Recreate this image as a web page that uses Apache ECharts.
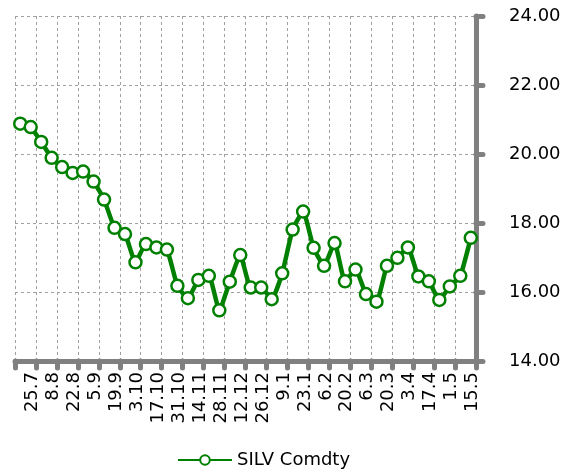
<!DOCTYPE html>
<html>
<head>
<meta charset="utf-8">
<script src="https://cdn.jsdelivr.net/npm/echarts@6/dist/echarts.min.js"></script>
<style>
  html, body { margin: 0; padding: 0; background: #fff; }
  #chart { width: 573px; height: 472px; }
</style>
</head>
<body>
<div id="chart"></div>
<script>
// weekly observations, 25.7 .. 22.5
const weeks = [
    '25.7', '1.8', '8.8', '15.8', '22.8', '29.8', '5.9', '12.9', '19.9', '26.9',
    '3.10', '10.10', '17.10', '24.10', '31.10', '7.11', '14.11', '21.11', '28.11', '5.12',
    '12.12', '19.12', '26.12', '2.1', '9.1', '16.1', '23.1', '30.1', '6.2', '13.2',
    '20.2', '27.2', '6.3', '13.3', '20.3', '27.3', '3.4', '10.4', '17.4', '24.4',
    '1.5', '8.5', '15.5', '22.5'
];
const silv = [
    20.88, 20.78, 20.35, 19.89, 19.62, 19.45, 19.49, 19.20, 18.68, 17.86,
    17.68, 16.86, 17.39, 17.29, 17.23, 16.18, 15.82, 16.35, 16.47, 15.47,
    16.30, 17.07, 16.13, 16.13, 15.79, 16.54, 17.81, 18.33, 17.28, 16.76,
    17.42, 16.31, 16.65, 15.94, 15.72, 16.76, 16.99, 17.29, 16.45, 16.31,
    15.77, 16.16, 16.47, 17.57
];
// labels shown on the axis, one per fortnight
const tickLabels = [
    '25.7', '8.8', '22.8', '5.9', '19.9', '3.10', '17.10', '31.10', '14.11', '28.11', '12.12',
    '26.12', '9.1', '23.1', '6.2', '20.2', '6.3', '20.3', '3.4', '17.4', '1.5', '15.5'
];
const yTicks = { min: 14, max: 24, step: 2 };

const font = 'DejaVu Sans';
const axisGray = '#808080';
const gridGray = '#a0a0a0';

const chart = echarts.init(document.getElementById('chart'), null, { renderer: 'canvas' });
chart.setOption({
    animation: false,
    backgroundColor: '#fff',
    textStyle: { fontFamily: font, color: '#000' },
    grid: { left: 15, right: 97, top: 16, bottom: 111 },
    xAxis: [
        {
            type: 'category',
            data: weeks,
            boundaryGap: true,
            position: 'bottom',
            show: false
        },
        {
            type: 'category',
            data: tickLabels,
            boundaryGap: true,
            position: 'bottom',
            axisLine: { lineStyle: { color: axisGray, width: 5, cap: 'round' } },
            axisTick: { show: true, length: 7, lineStyle: { color: axisGray, width: 5, cap: 'round' } },
            axisLabel: {
                interval: 0, rotate: 90, margin: 11,
                // blank first line nudges the rotated text to the right
                formatter: v => '\n' + v,
                lineHeight: 14,
                fontFamily: font, fontSize: 18, color: '#000'
            },
            splitLine: {
                show: true, interval: 0,
                lineStyle: { color: gridGray, width: 1, type: [3, 3] }
            }
        }
    ],
    yAxis: {
        type: 'value',
        position: 'right',
        min: yTicks.min,
        max: yTicks.max,
        interval: yTicks.step,
        axisLine: { show: true, lineStyle: { color: axisGray, width: 5, cap: 'round' } },
        axisTick: { show: true, length: 7, lineStyle: { color: axisGray, width: 5, cap: 'round' } },
        axisLabel: {
            margin: 33, fontFamily: font, fontSize: 18, color: '#000',
            formatter: v => v.toFixed(2)
        },
        splitLine: { show: true, lineStyle: { color: gridGray, width: 1, type: [3, 3] } }
    },
    legend: {
        top: 446,
        left: 172,
        itemWidth: 54,
        itemHeight: 12,
        itemGap: 6,
        textStyle: { fontFamily: font, fontSize: 18, color: '#000' },
        data: ['SILV Comdty']
    },
    series: [{
        name: 'SILV Comdty',
        type: 'line',
        xAxisIndex: 0,
        data: silv,
        smooth: 0.15,
        symbol: 'circle',
        symbolSize: 12,
        showAllSymbol: true,
        lineStyle: { color: '#008000', width: 4.5 },
        itemStyle: { color: '#fff', borderColor: '#008000', borderWidth: 2.5 }
    }]
});
window.addEventListener('resize', () => chart.resize());
</script>
</body>
</html>
